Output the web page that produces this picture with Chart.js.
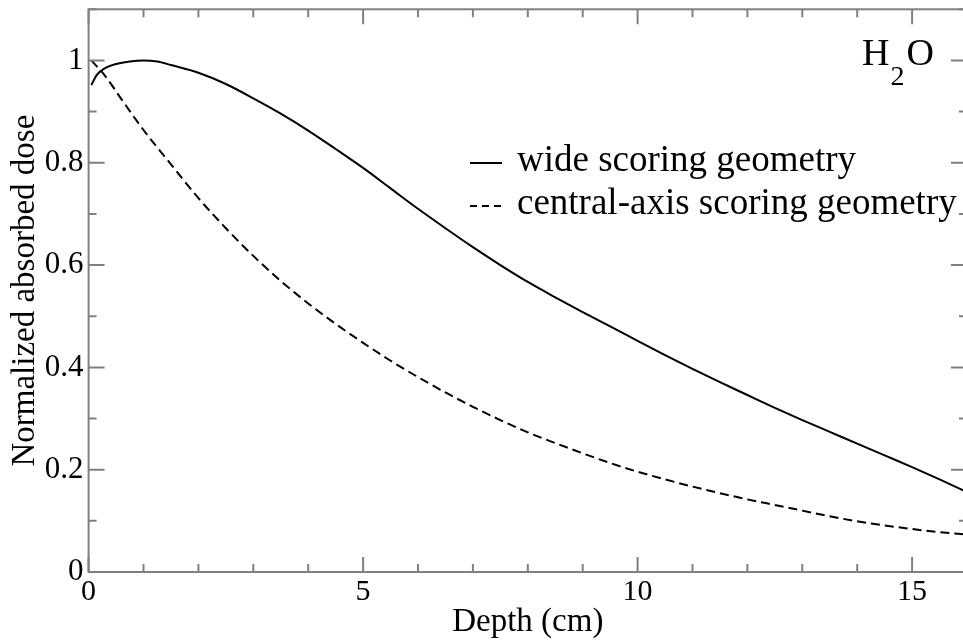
<!DOCTYPE html>
<html>
<head>
<meta charset="utf-8">
<script src="https://cdn.jsdelivr.net/npm/chart.js@4"></script>
<style>
  html, body { margin: 0; padding: 0; background: #fff; overflow: hidden; }
  #wrap { width: 963px; height: 642px; overflow: hidden; }
  canvas { display: block; }
</style>
</head>
<body>
<div id="wrap"><canvas id="c" width="975" height="642"></canvas></div>
<script>
// Depth-dose curves in water
const wideDepth = [0.05, 0.15, 0.3, 0.5, 0.75, 1.0, 1.25, 1.5, 2.0, 2.5, 3.0, 3.5, 4.0, 4.5, 5.0, 5.5, 6.0, 6.5, 7.0, 7.5, 8.0, 8.5, 9.0, 9.5, 10.0, 10.5, 11.0, 11.5, 12.0, 12.5, 13.0, 13.5, 14.0, 14.5, 15.0, 15.5, 16.0];
const wideDose = [0.952, 0.972, 0.985, 0.993, 0.998, 1.0, 0.998, 0.991, 0.976, 0.954, 0.926, 0.896, 0.863, 0.827, 0.790, 0.750, 0.710, 0.672, 0.635, 0.600, 0.567, 0.537, 0.508, 0.480, 0.452, 0.424, 0.397, 0.371, 0.346, 0.321, 0.297, 0.274, 0.251, 0.228, 0.205, 0.181, 0.156];

const axisDepth = [0.05, 0.3, 0.6, 1.0, 1.5, 2.0, 2.5, 3.0, 3.5, 4.0, 4.5, 5.0, 5.5, 6.0, 6.5, 7.0, 7.5, 8.0, 8.5, 9.0, 9.5, 10.0, 10.5, 11.0, 11.5, 12.0, 12.5, 13.0, 13.5, 14.0, 14.5, 15.0, 15.5, 16.0];
const axisDose = [1.0, 0.970, 0.924, 0.864, 0.797, 0.731, 0.672, 0.618, 0.569, 0.525, 0.485, 0.448, 0.413, 0.381, 0.351, 0.323, 0.297, 0.273, 0.252, 0.232, 0.213, 0.196, 0.181, 0.167, 0.154, 0.142, 0.131, 0.120, 0.109, 0.099, 0.091, 0.084, 0.078, 0.073];

const seriesLabels = ['wide scoring geometry', 'central-axis scoring geometry'];
const xTickValues = [0, 5, 10, 15];
const yTickValues = [0, 0.2, 0.4, 0.6, 0.8, 1.0];
const xMinorStep = 1;
const yMinorStep = 0.1;

const SERIF = '"Liberation Serif", "Times New Roman", serif';
const FRAME = '#808080';

const toPoints = (xs, ys) => xs.map((x, i) => ({ x: x, y: ys[i] }));

// Frame with inward major/minor ticks on all four sides
const frameTicks = {
  id: 'frameTicks',
  afterDatasetsDraw(chart) {
    const { ctx, chartArea: a, scales } = chart;
    const xs = scales.x, ys = scales.y;
    ctx.save();
    ctx.strokeStyle = FRAME;
    ctx.lineWidth = 2;
    ctx.strokeRect(a.left, a.top, a.right - a.left, a.bottom - a.top);
    ctx.beginPath();
    for (let v = xs.min; v <= xs.max + 1e-9; v += xMinorStep) {
      const px = xs.getPixelForValue(v);
      const len = xTickValues.some(t => Math.abs(t - v) < 1e-9) ? 15 : 8;
      ctx.moveTo(px, a.bottom); ctx.lineTo(px, a.bottom - len);
      ctx.moveTo(px, a.top); ctx.lineTo(px, a.top + len);
    }
    for (let i = 0; i * yMinorStep <= ys.max + 1e-9; i++) {
      const v = i * yMinorStep;
      const py = ys.getPixelForValue(v);
      const len = yTickValues.some(t => Math.abs(t - v) < 1e-9) ? 16 : 8;
      ctx.moveTo(a.left, py); ctx.lineTo(a.left + len, py);
      ctx.moveTo(a.right, py); ctx.lineTo(a.right - len, py);
    }
    ctx.stroke();
    ctx.restore();
  }
};

// Legend samples and the material label
const notes = {
  id: 'notes',
  afterDraw(chart) {
    const { ctx } = chart;
    const ds = chart.data.datasets;
    ctx.save();
    ctx.fillStyle = '#000';
    ctx.strokeStyle = '#000';
    ctx.textBaseline = 'alphabetic';
    ctx.font = '37px ' + SERIF;
    const rows = [{ y: 171, lineY: 163 }, { y: 214, lineY: 206 }];
    rows.forEach((r, i) => {
      ctx.lineWidth = 2;
      ctx.setLineDash(i === 1 ? [7, 5] : []);
      ctx.beginPath();
      ctx.moveTo(470, r.lineY); ctx.lineTo(502, r.lineY);
      ctx.stroke();
      ctx.setLineDash([]);
      ctx.fillText(ds[i].label, 517, r.y);
    });
    // H2O with subscript
    ctx.font = '38px ' + SERIF;
    let x = 862;
    ctx.fillText('H', x, 65);
    x += ctx.measureText('H').width + 1;
    ctx.font = '28px ' + SERIF;
    ctx.fillText('2', x, 85);
    x += ctx.measureText('2').width + 2;
    ctx.font = '38px ' + SERIF;
    ctx.fillText('O', x, 65);
    ctx.restore();
  }
};

new Chart(document.getElementById('c'), {
  type: 'line',
  data: {
    datasets: [
      {
        label: seriesLabels[0],
        data: toPoints(wideDepth, wideDose),
        borderColor: '#000',
        borderWidth: 2,
        pointRadius: 0,
        cubicInterpolationMode: 'monotone',
        fill: false
      },
      {
        label: seriesLabels[1],
        data: toPoints(axisDepth, axisDose),
        borderColor: '#000',
        borderWidth: 2,
        borderDash: [9, 5],
        pointRadius: 0,
        cubicInterpolationMode: 'monotone',
        fill: false
      }
    ]
  },
  options: {
    responsive: false,
    animation: false,
    devicePixelRatio: 1,
    layout: { padding: { top: 9.3, right: 8, bottom: 0, left: 0 } },
    plugins: { legend: { display: false }, tooltip: { enabled: false } },
    scales: {
      x: {
        type: 'linear',
        position: 'bottom',
        min: 0,
        max: 16,
        grid: { display: false, drawTicks: false },
        border: { display: false },
        afterBuildTicks: s => { s.ticks = xTickValues.map(v => ({ value: v })); },
        afterFit: s => { s.height = 70; s.paddingLeft = 0; s.paddingRight = 0; },
        ticks: {
          color: '#000',
          padding: 2,
          maxRotation: 0,
          font: { family: SERIF, size: 30 },
          callback: v => String(v)
        },
        title: {
          display: true,
          text: 'Depth (cm)',
          color: '#000',
          padding: { top: 0, bottom: 0 },
          font: { family: SERIF, size: 33 }
        }
      },
      y: {
        min: 0,
        max: 1.1,
        grid: { display: false, drawTicks: false },
        border: { display: false },
        afterBuildTicks: s => { s.ticks = yTickValues.map(v => ({ value: v })); },
        afterFit: s => { s.width = 88.6; s.paddingTop = 0; s.paddingBottom = 0; },
        ticks: {
          color: '#000',
          padding: 5,
          font: { family: SERIF, size: 31 },
          callback: v => String(Math.round(v * 10) / 10)
        },
        title: {
          display: true,
          text: 'Normalized absorbed dose',
          color: '#000',
          padding: { top: 6, bottom: 0 },
          font: { family: SERIF, size: 33 }
        }
      }
    }
  },
  plugins: [frameTicks, notes]
});
</script>
</body>
</html>
